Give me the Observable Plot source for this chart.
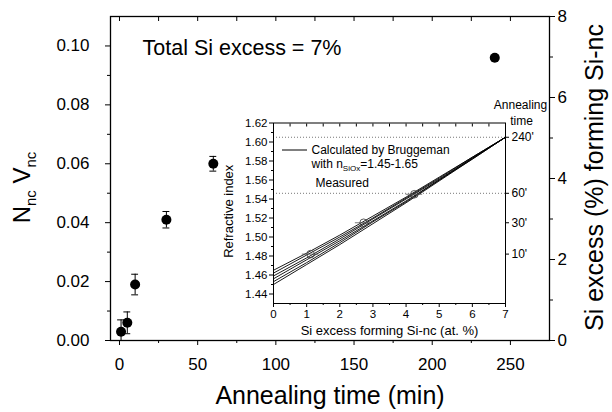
<!DOCTYPE html>
<html><head><meta charset="utf-8">
<script src="https://cdn.jsdelivr.net/npm/d3@7"></script>
<script src="https://cdn.jsdelivr.net/npm/@observablehq/plot@0.6"></script>
<style>
body{margin:0;background:#fff;}
#wrap{position:relative;width:612px;height:412px;}
#inset{position:absolute;left:200px;top:95px;}
svg{overflow:visible;}
</style></head><body><div id="wrap"><div id="main"></div><div id="inset"></div></div>
<script>
// ---- main chart data ----
const times = [1, 5, 10, 30, 60, 240];
const nv = [0.003, 0.006, 0.019, 0.041, 0.060, 0.096];
const nvErr = [0.004, 0.0037, 0.0035, 0.0028, 0.0025, 0];
const xTicks = [0, 50, 100, 150, 200, 250];
const xMinor = [25, 75, 125, 175, 225];
const yTicks = [0, 0.02, 0.04, 0.06, 0.08, 0.10];
const yMinor = [0.01, 0.03, 0.05, 0.07, 0.09];
const rightTicks = [0, 2, 4, 6, 8];
const rightMinor = [1, 3, 5, 7];
const leftMax = 0.11, rightMax = 8;

// ---- inset data ----
const siX = [0, 1, 2, 3, 4, 5, 6, 7];
const calcLines = [
  [1.450, 1.471, 1.492, 1.514, 1.536, 1.559, 1.582, 1.605],
  [1.453, 1.473, 1.494, 1.516, 1.537, 1.560, 1.582, 1.605],
  [1.456, 1.476, 1.496, 1.517, 1.538, 1.560, 1.583, 1.605],
  [1.459, 1.478, 1.498, 1.519, 1.540, 1.561, 1.583, 1.605],
  [1.462, 1.481, 1.500, 1.520, 1.541, 1.562, 1.584, 1.605],
  [1.465, 1.483, 1.502, 1.522, 1.542, 1.563, 1.584, 1.605]
];
const measX = [1.12, 2.72, 4.25];
const measN = [1.482, 1.515, 1.545];
const measXErr = [0.25, 0.25, 0.25];
const annealLabels = ["10'", "30'", "60'", "240'"];
const annealN = [1.482, 1.515, 1.546, 1.605];
const dottedN = [1.546, 1.605];
const insetYTicks = [1.44, 1.46, 1.48, 1.50, 1.52, 1.54, 1.56, 1.58, 1.60, 1.62];
const insetYMinor = [1.45, 1.47, 1.49, 1.51, 1.53, 1.55, 1.57, 1.59, 1.61];
const insetXTicks = [0, 1, 2, 3, 4, 5, 6, 7];
const insetXMinor = [0.5, 1.5, 2.5, 3.5, 4.5, 5.5, 6.5];

const font = '"Liberation Sans", Arial, Helvetica, sans-serif';
const blank = () => "";

const pts = times.map((t, i) => ({t, v: nv[i], e: nvErr[i]}));
const errPts = pts.filter(d => d.e > 0);

const main = Plot.plot({
  width: 612, height: 412,
  marginLeft: 110, marginRight: 63, marginTop: 16, marginBottom: 72,
  style: {fontFamily: font, fontSize: "17px", color: "#000", background: "transparent"},
  x: {domain: [-5.75, 275]},
  y: {domain: [0, leftMax]},
  marks: [
    Plot.frame({stroke: "#000", strokeWidth: 1.3}),
    Plot.axisY(yTicks, {tickSize: 5, tickPadding: 16, tickFormat: d3.format(".2f"), label: null}),
    Plot.axisY(yMinor, {tickSize: 3, tickFormat: blank, label: null}),
    Plot.axisX(xTicks, {tickSize: 5, tickPadding: 12, label: null}),
    Plot.axisX(xMinor, {tickSize: 3, tickFormat: blank, label: null}),
    Plot.axisX(xTicks.concat(xMinor), {anchor: "top", tickSize: 4, dy: 4, tickFormat: blank, label: null}),
    Plot.axisY(rightTicks.map(v => v * leftMax / rightMax), {anchor: "right", tickSize: 5, tickPadding: 3,
      tickFormat: d => String(Math.round(d * rightMax / leftMax)), label: null}),
    Plot.axisY(rightMinor.map(v => v * leftMax / rightMax), {anchor: "right", tickSize: 3, tickFormat: blank, label: null}),
    Plot.ruleX(errPts, {x: "t", y1: d => Math.max(0, d.v - d.e), y2: d => d.v + d.e, stroke: "#000", strokeWidth: 1}),
    Plot.ruleY(errPts, {y: d => d.v + d.e, x1: d => d.t - 2.2, x2: d => d.t + 2.2, stroke: "#000"}),
    Plot.ruleY(errPts.filter(d => d.v - d.e > 0), {y: d => d.v - d.e, x1: d => d.t - 2.2, x2: d => d.t + 2.2, stroke: "#000"}),
    Plot.dot(pts, {x: "t", y: "v", r: 5, fill: "#000", stroke: "none"}),
    Plot.text(["Total Si excess = 7%"], {frameAnchor: "top-left", dx: 32, dy: 32, textAnchor: "start", lineAnchor: "middle", fontSize: 21.5}),
    Plot.text(["Annealing time (min)"], {frameAnchor: "bottom", dx: 0, dy: 55, textAnchor: "middle", lineAnchor: "middle", fontSize: 25}),
    Plot.text(["NncVnc"], {frameAnchor: "left", dx: -88, dy: 9, rotate: -90, textAnchor: "middle", lineAnchor: "middle", fontSize: 24}),
    Plot.text(["Si excess (%) forming Si-nc"], {frameAnchor: "right", dx: 45, dy: -1, rotate: -90, textAnchor: "middle", lineAnchor: "middle", fontSize: 25})
  ]
});
document.getElementById("main").appendChild(main);

d3.select(main).selectAll("text").filter(function () { return this.textContent === "NncVnc"; }).each(function () {
  const t = d3.select(this); t.text(null);
  t.append("tspan").text("N");
  t.append("tspan").attr("dy", 6).attr("font-size", 15).text("nc");
  t.append("tspan").attr("dy", -6).text(" V");
  t.append("tspan").attr("dy", 6).attr("font-size", 15).text("nc");
});

// ---- inset ----
const lineData = calcLines.flatMap((arr, k) => arr.map((n, i) => ({x: siX[i], n, k})));
const meas = measX.map((x, i) => ({x, n: measN[i], e: measXErr[i]}));
const annealMap = new Map(annealN.map((n, i) => [n, annealLabels[i]]));

const inset = Plot.plot({
  width: 360, height: 250,
  marginLeft: 73, marginRight: 55, marginTop: 27.5, marginBottom: 42,
  style: {fontFamily: font, fontSize: "11.5px", color: "#000", background: "transparent"},
  x: {domain: [0, 7]},
  y: {domain: [1.43, 1.62]},
  marks: [
    Plot.ruleY(dottedN, {stroke: "#777", strokeDasharray: "1,2", strokeWidth: 1}),
    Plot.frame({stroke: "#000", strokeWidth: 1}),
    Plot.axisY(insetYTicks, {tickSize: 4, tickPadding: 2, tickFormat: d3.format(".2f"), label: null}),
    Plot.axisY(insetYMinor, {tickSize: 2, tickFormat: blank, label: null}),
    Plot.axisX(insetXTicks, {tickSize: 4, tickPadding: 2, label: null}),
    Plot.axisX(insetXMinor, {tickSize: 2, tickFormat: blank, label: null}),
    Plot.axisX(insetXTicks.concat(insetXMinor), {anchor: "top", tickSize: 3, dy: 3, tickFormat: blank, label: null}),
    Plot.axisY(annealN, {anchor: "right", tickSize: 3, tickPadding: 3, fontSize: 12, tickFormat: d => annealMap.get(d), label: null}),
    Plot.line(lineData, {x: "x", y: "n", z: "k", stroke: "#000", strokeWidth: 0.9}),
    Plot.ruleY(meas, {y: "n", x1: d => d.x - d.e, x2: d => d.x + d.e, stroke: "#555", strokeWidth: 0.8}),
    Plot.dot(meas, {x: "x", y: "n", r: 3.8, stroke: "#444", fill: "none", strokeWidth: 0.9}),
    Plot.text(["Refractive index"], {frameAnchor: "left", dx: -45, dy: -2, rotate: -90, textAnchor: "middle", lineAnchor: "middle", fontSize: 13}),
    Plot.text(["Si excess forming Si-nc (at. %)"], {frameAnchor: "bottom", dy: 27, textAnchor: "middle", lineAnchor: "middle", fontSize: 13}),
    Plot.text(["Annealing"], {frameAnchor: "top-right", dx: 15, dy: -17.5, textAnchor: "middle", lineAnchor: "middle", fontSize: 12}),
    Plot.text(["time"], {frameAnchor: "top-right", dx: 16, dy: -1.5, textAnchor: "middle", lineAnchor: "middle", fontSize: 12}),
    Plot.text(["Calculated by Bruggeman"], {frameAnchor: "top-left", dx: 38, dy: 27.5, textAnchor: "start", lineAnchor: "middle", fontSize: 12}),
    Plot.text(["with nSiOx=1.45-1.65"], {frameAnchor: "top-left", dx: 38, dy: 41, textAnchor: "start", lineAnchor: "middle", fontSize: 12}),
    Plot.text(["Measured"], {frameAnchor: "top-left", dx: 42, dy: 60.5, textAnchor: "start", lineAnchor: "middle", fontSize: 12})
  ]
});
document.getElementById("inset").appendChild(inset);

d3.select(inset).selectAll("text").filter(function () { return this.textContent === "with nSiOx=1.45-1.65"; }).each(function () {
  const t = d3.select(this); t.text(null);
  t.append("tspan").text("with n");
  t.append("tspan").attr("dy", 3).attr("font-size", 8).text("SiOx");
  t.append("tspan").attr("dy", -3).text("=1.45-1.65");
});
// legend sample line
d3.select(inset).append("line")
  .attr("x1", 73 + 9).attr("x2", 73 + 34).attr("y1", 55).attr("y2", 55)
  .attr("stroke", "#000").attr("stroke-width", 1);
</script></body></html>
